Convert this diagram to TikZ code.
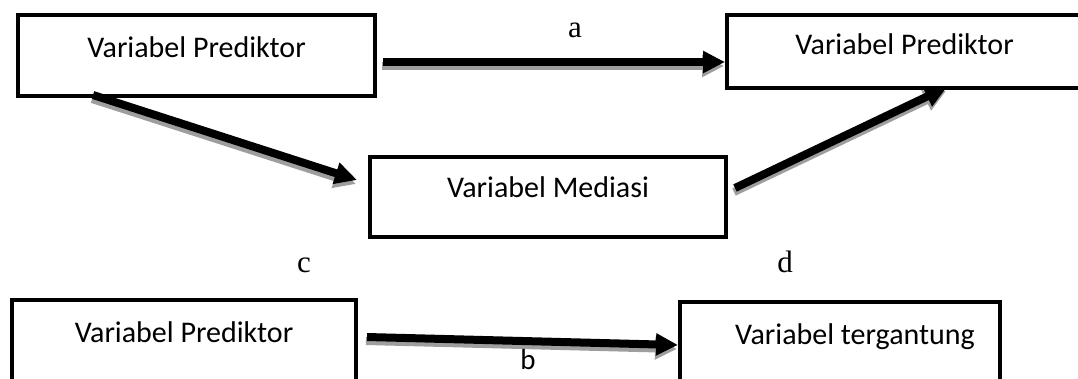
\documentclass[tikz,border=0pt]{standalone}
\usepackage{fontspec}
\setmainfont{Liberation Serif}
\newfontfamily\boxfont{Carlito}
\usetikzlibrary{arrows.meta,calc}

\definecolor{shadowgray}{HTML}{9E9E9E}

\tikzset{
  varbox/.style={draw, line width=4pt, rectangle, inner sep=0pt, outer sep=0pt,
    anchor=base, font=\boxfont\fontsize{30}{35}\selectfont},
  arrowmain/.style={line width=8pt, line cap=butt, draw=black,
    -{Triangle[length=22pt,width=21pt]}},
  arrowshade/.style={arrowmain, draw=shadowgray, fill=shadowgray,
    transform canvas={shift={(-1,4)}}},
  lbl/.style={anchor=base, inner sep=0pt, font=\fontsize{31}{36}\selectfont},
}

% thick arrow with a grey drop shadow underneath
\newcommand\ShadowArrow[2]{%
  \draw[arrowshade] #1 -- #2;
  \draw[arrowmain] #1 -- #2;
}

\begin{document}
\begin{tikzpicture}[x=1pt,y=-1pt]
  \useasboundingbox (0,0) rectangle (1078,378);
  \clip (0,0) rectangle (1078,378);

  % boxes
  \node[varbox, minimum width=357pt, text height=42pt, text depth=39pt]
    (p1) at (196.5,57) {Variabel Prediktor};
  \node[varbox, minimum width=355pt, text height=39pt, text depth=34pt]
    (p2) at (904.5,54) {Variabel Prediktor};
  \node[varbox, minimum width=356pt, text height=40pt, text depth=40pt]
    (p3) at (548,197) {Variabel Mediasi};
  \node[varbox, minimum width=344pt, text height=42pt, text depth=58pt]
    (p4) at (184,342) {Variabel Prediktor};
  \node[varbox, minimum width=320pt, text height=42pt, text depth=56pt]
    (p5) at (840,344) {\hspace*{30pt}Variabel tergantung};

  % connectors
  \ShadowArrow{($(p1.east)+(8,6.5)$)}{($(p2.west)+(-2,10.5)$)}
  \ShadowArrow{($(p1.south west)+(75,-1)$)}{($(p3.west)+(-13,-17)$)}
  \ShadowArrow{($(p3.east)+(9,-9)$)}{($(p2.south west)+(220,-1)$)}
  \ShadowArrow{($(p4.east)+(11,-13)$)}{($(p5.west)+(-2,-6)$)}

  % path labels
  \node[lbl] (la) at (575,37) {a};
  \node[lbl] (lc) at (304,272) {c};
  \node[lbl] (ld) at (785,272) {d};
  \node[anchor=base, inner sep=0pt, font=\boxfont\fontsize{29}{34}\selectfont]
    (lb) at (528,369) {b};
\end{tikzpicture}
\end{document}
